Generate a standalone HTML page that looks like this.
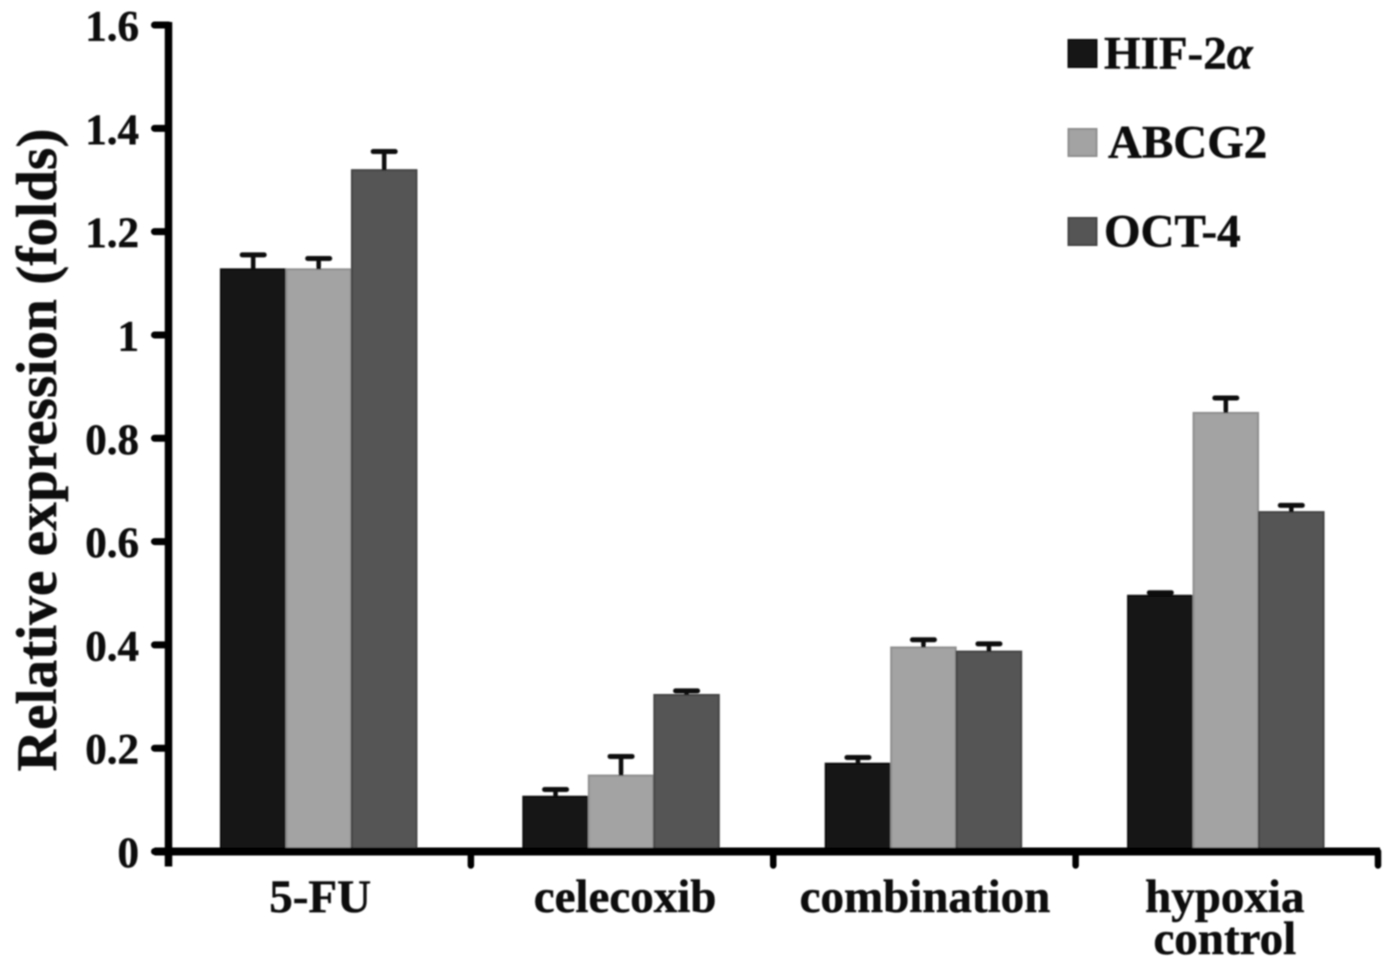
<!DOCTYPE html>
<html>
<head>
<meta charset="utf-8">
<title>Relative expression chart</title>
<style>
html,body{margin:0;padding:0;background:#fff;width:1394px;height:966px;overflow:hidden}
svg{display:block}
text{font-family:"Liberation Serif","Noto Serif CJK SC",serif;font-weight:bold;fill:#111;stroke:#111;stroke-width:0.5px}
</style>
</head>
<body>
<svg id="chart" width="1394" height="966" viewBox="0 0 1394 966" xmlns="http://www.w3.org/2000/svg">
  <defs><filter id="soft" x="-5%" y="-5%" width="110%" height="110%"><feGaussianBlur stdDeviation="0.7"/></filter></defs>
  <g id="root" filter="url(#soft)"></g>
</svg>
<script>
const categories = ["5-FU", "celecoxib", "combination", "hypoxia control"];
const seriesNames = ["HIF-2α", "ABCG2", "OCT-4"];
const hif2a = [1.127, 0.106, 0.17, 0.495];
const abcg2 = [1.127, 0.147, 0.395, 0.849];
const oct4 = [1.319, 0.303, 0.387, 0.657];
const hif2aErr = [0.028, 0.014, 0.012, 0.006];
const abcg2Err = [0.021, 0.037, 0.015, 0.029];
const oct4Err = [0.036, 0.008, 0.015, 0.013];
const yTicks = [0, 0.2, 0.4, 0.6, 0.8, 1, 1.2, 1.4, 1.6];

const NS = "http://www.w3.org/2000/svg";
const root = document.getElementById("root");
const colors = ["#151515", "#a3a3a3", "#555555"];
const edges = ["#0c0c0c", "#8f8f8f", "#444444"];
const values = [hif2a, abcg2, oct4];
const errors = [hif2aErr, abcg2Err, oct4Err];
const labelNudge = [1.5, 4, 1.5, -1];

const plotLeft = 168.5, plotRight = 1378, plotBottom = 851.5, plotTop = 25;
function yScale(v) { return plotBottom + (plotTop - plotBottom) * v / 1.6; }
const groupW = (plotRight - plotLeft) / categories.length;
const barW = 65.5;
function xScale(cat, ser) { return plotLeft + groupW * cat + (groupW - barW * 3) / 2 - 1 + barW * ser; }

function make(tag, attrs, parent) {
  const el = document.createElementNS(NS, tag);
  for (const k in attrs) el.setAttribute(k, attrs[k]);
  (parent || root).appendChild(el);
  return el;
}

// bars and error bars
values.forEach(function (series, s) {
  series.forEach(function (v, c) {
    const x = xScale(c, s), y = yScale(v);
    const bar = make("rect", {x: x + 0.5, y: y, width: barW - 1, height: plotBottom - y, fill: colors[s], stroke: edges[s], "stroke-width": 2});
    
    
    const cx = x + barW / 2;
    const yErr = yScale(v + errors[s][c]);
    const stem = make("line", {x1: cx, x2: cx, y1: y, y2: yErr, stroke: "#111", "stroke-width": 4.5});
    
    
    const cap = make("line", {x1: cx - 11, x2: cx + 11, y1: yErr, y2: yErr, stroke: "#111", "stroke-width": 5, "stroke-linecap": "round"});
    
    
  });
});

// axes
const yAxis = make("line", {x1: plotLeft, x2: plotLeft, y1: plotTop - 3, y2: plotBottom + 15, stroke: "#000", "stroke-width": 7.5});


const xAxis = make("line", {x1: plotLeft - 14, x2: plotRight + 2, y1: plotBottom, y2: plotBottom, stroke: "#000", "stroke-width": 8});



yTicks.forEach(function (t) {
  const y = yScale(t);
  const tick = make("line", {x1: plotLeft - 14, x2: plotLeft, y1: y, y2: y, stroke: "#000", "stroke-width": 7, "stroke-linecap": "round"});
  
  
  const label = make("text", {x: 139, y: y + 15.5, "text-anchor": "end", "font-size": 43});
  label.textContent = String(t);
  
  
});

for (let i = 1; i <= categories.length; i++) {
  const x = plotLeft + groupW * i;
  const tick = make("line", {x1: x, x2: x, y1: plotBottom, y2: plotBottom + 14, stroke: "#000", "stroke-width": 6.5, "stroke-linecap": "round"});
  
  
}

// category labels
categories.forEach(function (name, c) {
  const cx = xScale(c, 1) + barW / 2 + labelNudge[c];
  const lines = name === "hypoxia control" ? ["hypoxia", "control"] : [name];
  lines.forEach(function (ln, i) {
    const label = make("text", {x: cx, y: 912 + i * 42, "text-anchor": "middle", "font-size": 47});
    label.textContent = ln;
    
    
  });
});

// axis title
const title = make("text", {transform: "translate(56,450) rotate(-90)", "text-anchor": "middle", "font-size": 57.4});
title.textContent = "Relative expression (folds)";



// legend
seriesNames.forEach(function (name, s) {
  const ly = 54 + s * 89;
  const swatch = make("rect", {x: 1068.5, y: ly - 14, width: 28, height: 27, fill: colors[s], stroke: edges[s], "stroke-width": 2});
  
  
  const label = make("text", {x: s === 1 ? 1108 : 1104, y: ly + 14.5, "font-size": 47});
  
  
  const greek = name.indexOf("α");
  if (greek >= 0) {
    label.appendChild(document.createTextNode(name.slice(0, greek)));
    const alpha = make("tspan", {"font-style": "italic"}, label);
    alpha.textContent = "α";
  } else {
    label.textContent = name;
  }
});
</script>
</body>
</html>
